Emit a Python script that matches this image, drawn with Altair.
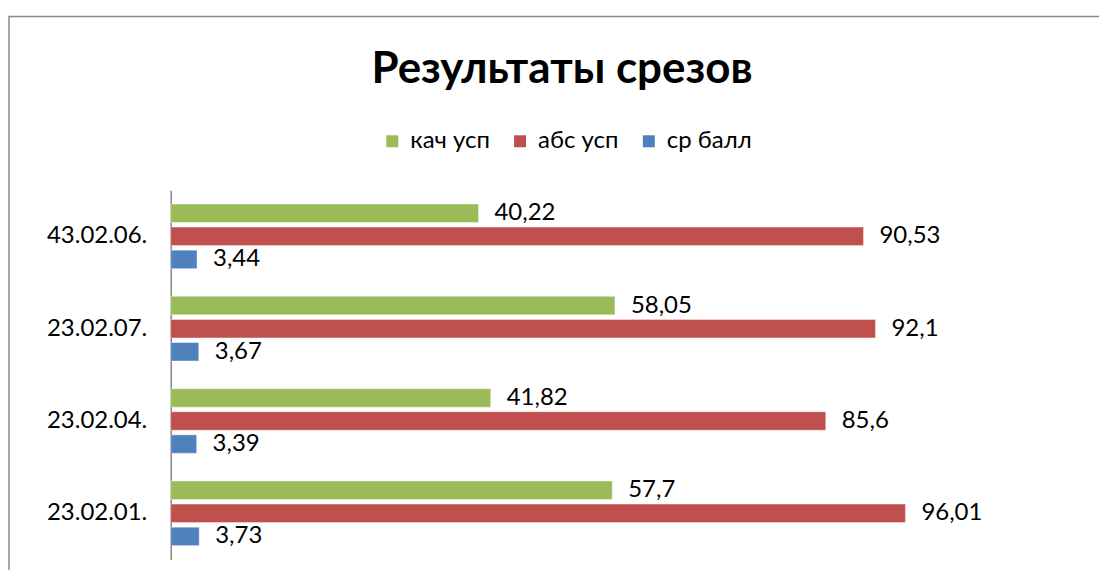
import altair as alt
import pandas as pd

title_text = "Результаты срезов"
categories = ["43.02.06.", "23.02.07.", "23.02.04.", "23.02.01."]
series = ["кач усп", "абс усп", "ср балл"]
kach_usp = [40.22, 58.05, 41.82, 57.7]
abs_usp = [90.53, 92.1, 85.6, 96.01]
sr_ball = [3.44, 3.67, 3.39, 3.73]
colors = ["#9BBB59", "#C0504D", "#4F81BD"]

rows = []
for i, c in enumerate(categories):
    for s, vals in zip(series, [kach_usp, abs_usp, sr_ball]):
        rows.append({"cat": c, "series": s, "value": vals[i],
                     "label": str(vals[i]).replace(".", ",")})
df = pd.DataFrame(rows)

FONT = "Lato"
FS = 24

y_enc = alt.Y("cat:N", sort=categories,
              scale=alt.Scale(paddingInner=0.3, paddingOuter=0.15),
              axis=alt.Axis(title=None, domainColor="#868686", domainWidth=1.5,
                            ticks=False, grid=False, labelFontSize=FS,
                            labelFont=FONT, labelColor="black", labelPadding=24))
yoff_enc = alt.YOffset("series:N", sort=series, scale=alt.Scale(paddingInner=0.2))
x_enc = alt.X("value:Q", scale=alt.Scale(domain=[0, 120]), axis=None)

base = alt.Chart(df)

bars = base.mark_bar(stroke="#ffffff", strokeOpacity=0.5, strokeWidth=0.8).encode(
    y=y_enc, yOffset=yoff_enc, x=x_enc,
    color=alt.Color("series:N", sort=series,
                    scale=alt.Scale(domain=series, range=colors),
                    legend=alt.Legend(title=None, orient="none", direction="horizontal",
                                      legendX=210, legendY=-61,
                                      symbolType="square", symbolSize=144,
                                      symbolStrokeWidth=0, labelFontSize=FS,
                                      labelFont=FONT, labelColor="black",
                                      columnPadding=18, labelOffset=6)),
)

labels = base.mark_text(align="left", baseline="middle", dx=16, fontSize=FS,
                        font=FONT, color="black").encode(
    y=y_enc, yOffset=yoff_enc, x=x_enc, text="label:N")

title = alt.Chart(pd.DataFrame({"t": [title_text]})).mark_text(
    align="center", baseline="alphabetic", fontSize=44, font=FONT,
    fontWeight="bold", color="black").encode(
    text="t:N", x=alt.value(392), y=alt.value(-107))

frame = alt.Chart(pd.DataFrame({"a": [0]})).mark_rect(
    filled=False, stroke="#8a8a8a", strokeWidth=1.5).encode(
    x=alt.value(-162), x2=alt.value(1000), y=alt.value(-174), y2=alt.value(500))

chart = alt.layer(frame, title, bars, labels).properties(
    width=920, height=370,
    autosize=alt.AutoSizeParams(type="none"),
    padding={"left": 163, "top": 182, "right": 10, "bottom": 10},
).configure_view(strokeWidth=0)

chart.save("out.html", embed_options={"renderer": "svg", "actions": False})
